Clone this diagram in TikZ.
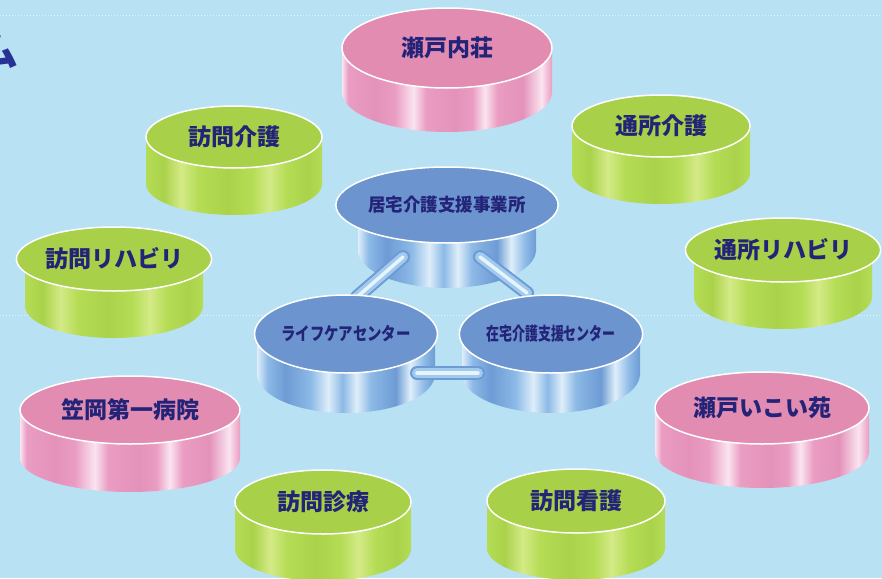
\documentclass[tikz,border=0pt]{standalone}
\usepackage{fontspec}
\newfontfamily\jp{Noto Sans CJK JP}
\usetikzlibrary{shapes.geometric}
\pgfdeclarelayer{lowerlayer}
\pgfdeclarelayer{pipelayer}
\pgfsetlayers{lowerlayer,pipelayer,main}
\definecolor{bg}{RGB}{184,226,244}
\definecolor{txt}{RGB}{35,35,120}
\definecolor{titleblue}{RGB}{40,50,150}
\definecolor{pkT}{RGB}{226,140,178}
\definecolor{pkS}{RGB}{234,156,194}
\definecolor{pkH}{RGB}{250,228,240}
\definecolor{pkD}{RGB}{228,146,186}
\definecolor{grT}{RGB}{168,208,72}
\definecolor{grS}{RGB}{180,220,84}
\definecolor{grH}{RGB}{212,234,135}
\definecolor{grD}{RGB}{170,210,74}
\definecolor{blT}{RGB}{108,148,206}
\definecolor{blS}{RGB}{140,185,230}
\definecolor{blH}{RGB}{222,238,250}
\definecolor{blD}{RGB}{110,155,212}
\definecolor{pipeE}{RGB}{110,155,212}
\definecolor{pipeM}{RGB}{160,202,238}
\definecolor{pipeH}{RGB}{232,244,252}
\pgfdeclarehorizontalshading{pinkside}{100bp}{color(0bp)=(pkH); color(25bp)=(pkH); color(26.5bp)=(pkS); color(33bp)=(pkD); color(37.5bp)=(pkS); color(42bp)=(pkH); color(45bp)=(pkS); color(52bp)=(pkD); color(56bp)=(pkS); color(59bp)=(pkH); color(62bp)=(pkS); color(68bp)=(pkD); color(72.5bp)=(pkH); color(75bp)=(pkS); color(100bp)=(pkS)}
\pgfdeclarehorizontalshading{greenside}{100bp}{color(0bp)=(grS); color(25bp)=(grS); color(30bp)=(grD); color(35bp)=(grH); color(40bp)=(grS); color(48bp)=(grD); color(55bp)=(grS); color(60bp)=(grH); color(65bp)=(grS); color(71bp)=(grD); color(75bp)=(grS); color(100bp)=(grS)}
\pgfdeclarehorizontalshading{blueside}{100bp}{color(0bp)=(blH); color(25bp)=(blH); color(28bp)=(blS); color(33bp)=(blD); color(40bp)=(blS); color(45bp)=(blH); color(49bp)=(blS); color(53bp)=(blH); color(57bp)=(blS); color(64bp)=(blD); color(68bp)=(blH); color(72bp)=(blS); color(75bp)=(blD); color(100bp)=(blD)}
\tikzset{
  pinktop/.style={ellipse, inner sep=0pt, outer sep=0pt, fill=pkT, draw=white, line width=1.5pt, text=txt, font=\jp\bfseries\fontsize{23}{23}\selectfont},
  greentop/.style={ellipse, inner sep=0pt, outer sep=0pt, fill=grT, draw=white, line width=1.5pt, text=txt, font=\jp\bfseries\fontsize{23}{23}\selectfont},
  bluetop/.style={ellipse, inner sep=0pt, outer sep=0pt, fill=blT, draw=white, line width=1.5pt, text=txt, font=\jp\bfseries\fontsize{18}{18}\selectfont},
  pipe/.style={line cap=round, line width=14pt, draw=pipeE,
    postaction={draw=pipeM, line width=10pt, line cap=round},
    postaction={draw=pipeH, line width=3.5pt, line cap=round}},
  gridline/.style={draw=white, opacity=0.6, line width=0.8pt, dash pattern=on 1pt off 2pt},
  title/.style={text=titleblue, font=\jp\bfseries\fontsize{40}{40}\selectfont, inner sep=0pt}
}
% #1 name, #2 cx, #3 cy, #4 rx, #5 ry, #6 height, #7 colour kind, #8 text
\newcommand\cyl[8]{%
  \shade[shading=#7side] ({#2-#4},{#3}) rectangle ({#2+#4},{#3+#6});
  \shade[shading=#7side] ({#2},{#3+#6}) ellipse [x radius=#4, y radius=#5];
  \node[#7top, minimum width={2*#4}, minimum height={2*#5}] (#1) at (#2,#3) {#8};
}
\begin{document}
\begin{tikzpicture}[x=1pt,y=-1pt]
\useasboundingbox (0,0) rectangle (882,578);
\begin{pgfonlayer}{lowerlayer}
\fill[bg] (0,0) rectangle (882,578);
\draw[gridline] (0,15) -- (882,15);
\draw[gridline] (0,315) -- (882,315);
\cyl{kyotaku}{447}{205}{89}{38}{45}{blue}{\scalebox{0.97}[1]{居宅介護支援事業所}}
\end{pgfonlayer}
\node[title, anchor=south west] (ttl) at (-22,69) {ム};
\cyl{setonaiso}{447}{48}{105}{40}{44}{pink}{瀬戸内荘}
\cyl{houmonkaigo}{234}{137}{88}{31}{47}{green}{訪問介護}
\cyl{tsushokaigo}{661}{126}{89}{31}{47}{green}{通所介護}
\cyl{houmonreha}{114}{259}{89}{32}{47}{green}{訪問リハビリ}
\cyl{tsushoreha}{783}{250}{89}{32}{47}{green}{通所リハビリ}
\cyl{life}{346}{334}{89}{39}{40}{blue}{\scalebox{0.8}[1]{ライフケアセンター}}
\cyl{zaitaku}{551}{334}{89}{39}{40}{blue}{\scalebox{0.72}[1]{在宅介護支援センター}}
\begin{pgfonlayer}{pipelayer}
\draw[pipe] ([shift={(-44,52)}]kyotaku.center) -- ([shift={(11,-37)}]life.center);
\draw[pipe] ([shift={(33,52)}]kyotaku.center) -- ([shift={(-24,-41)}]zaitaku.center);
\end{pgfonlayer}
\draw[pipe] ([shift={(71,39)}]life.center) -- ([shift={(-73,39)}]zaitaku.center);
\cyl{kasaoka}{130}{410}{110}{34}{48}{pink}{笠岡第一病院}
\cyl{ikoien}{762}{408}{107}{36}{44}{pink}{瀬戸いこい苑}
\cyl{shinryo}{323}{502}{88}{32}{47}{green}{訪問診療}
\cyl{kango}{576}{501}{89}{32}{47}{green}{訪問看護}
\end{tikzpicture}
\end{document}
